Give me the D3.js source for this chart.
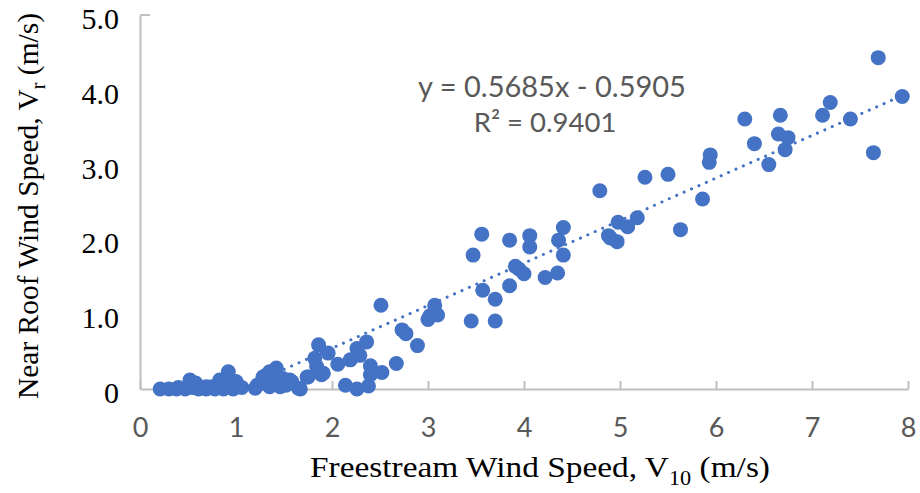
<!DOCTYPE html>
<html>
<head>
<meta charset="utf-8">
<script src="https://cdn.jsdelivr.net/npm/d3@7"></script>
<style>
  html, body { margin: 0; padding: 0; background: #fff; }
  svg { display: block; }
</style>
</head>
<body>
<svg id="chart" width="920" height="493"></svg>
<script>
// Freestream speed V10 (m/s) and near-roof speed Vr (m/s) for each observation
const v10 = [
  0.21, 0.30, 0.38, 0.47, 0.55, 0.61, 0.69, 0.69, 0.78, 0.83, 0.87, 0.92, 0.97, 1.00, 1.06, 0.52, 0.40, 0.58, 0.75, 0.90,
  1.20, 1.22, 1.28, 1.32, 1.35, 1.35, 1.41, 1.42, 1.46, 1.49, 1.56, 1.58, 1.65, 1.67, 1.75, 1.44, 1.52, 1.38,
  1.74, 1.82, 1.84, 1.86, 1.89, 1.91, 1.96, 2.06, 2.14, 2.19, 2.26, 2.26, 2.29, 2.36, 2.38, 2.40, 2.40, 2.52, 2.51, 2.67,
  2.73, 2.77, 2.89, 3.00, 3.02, 3.07, 3.10,
  3.45, 3.47, 3.56, 3.57, 3.70, 3.70, 3.85, 3.85, 3.91, 3.95, 4.00, 4.06, 4.06, 4.22, 4.35, 4.36, 4.41, 4.41,
  4.79, 4.88, 4.90, 4.97, 4.98, 5.08, 5.18, 5.26, 5.50, 5.63, 5.86, 5.93, 5.94,
  6.30, 6.40, 6.55, 6.65, 6.67, 6.72, 6.75, 7.11, 7.19, 7.40, 7.64, 7.69, 7.94
];
const vr = [
  0.00, 0.00, 0.00, 0.00, 0.02, 0.00, 0.00, 0.03, 0.00, 0.12, 0.00, 0.23, 0.00, 0.10, 0.02, 0.12, 0.02, 0.08, 0.03, 0.05,
  0.01, 0.05, 0.16, 0.19, 0.23, 0.03, 0.25, 0.28, 0.03, 0.14, 0.12, 0.10, 0.01, 0.00, 0.16, 0.08, 0.05, 0.12,
  0.16, 0.41, 0.30, 0.59, 0.19, 0.21, 0.48, 0.33, 0.05, 0.39, 0.54, 0.00, 0.45, 0.63, 0.04, 0.19, 0.31, 0.22, 1.12, 0.34,
  0.79, 0.74, 0.58, 0.93, 0.98, 1.12, 0.99,
  0.91, 1.79, 2.07, 1.32, 0.91, 1.20, 1.38, 1.99, 1.64, 1.60, 1.54, 2.05, 1.90, 1.49, 1.55, 1.99, 1.79, 2.16,
  2.65, 2.05, 2.02, 1.97, 2.23, 2.17, 2.29, 2.83, 2.87, 2.13, 2.54, 3.03, 3.13,
  3.61, 3.28, 3.00, 3.41, 3.66, 3.20, 3.36, 3.66, 3.83, 3.61, 3.16, 4.43, 3.91
];

// Linear trend fitted to the observations
const trendSlope = 0.5685;
const trendIntercept = -0.5905;
const trendLabel = "y = 0.5685x - 0.5905";
const r2Label = "R\u00B2 = 0.9401";

const xTicks = [0, 1, 2, 3, 4, 5, 6, 7, 8];
const yTicks = [0, 1, 2, 3, 4, 5];
const yTickLabels = ["0", "1.0", "2.0", "3.0", "4.0", "5.0"];

const svg = d3.select("#chart");
const x = d3.scaleLinear().domain([0, 8]).range([140, 908]);
const y = d3.scaleLinear().domain([0, 5]).range([389, 15]);

const axisGrey = "#bfbfbf";
const blue = "#4472c4";
const serif = "'Liberation Serif', 'Times New Roman', serif";
const sans = "Lato, 'Open Sans', sans-serif";

// X axis: ticks point up into the plot area
const gx = svg.append("g")
  .attr("transform", `translate(0,${y(0)})`)
  .call(d3.axisBottom(x).tickValues(xTicks).tickSizeInner(-8).tickSizeOuter(0).tickPadding(29)
    .tickFormat(d3.format("d")));
gx.select(".domain").attr("stroke", axisGrey).attr("stroke-width", 2);
gx.selectAll(".tick line").attr("stroke", axisGrey).attr("stroke-width", 2);
gx.selectAll(".tick text")
  .attr("fill", "#595959")
  .style("font-family", sans)
  .style("font-size", "27px");

// Y axis
const gy = svg.append("g")
  .attr("transform", `translate(${x(0)},0)`)
  .call(d3.axisLeft(y).tickValues(yTicks).tickSize(0).tickPadding(21)
    .tickFormat((d, i) => yTickLabels[i]));
gy.select(".domain").attr("stroke", axisGrey).attr("stroke-width", 2);
gy.selectAll(".tick text")
  .attr("fill", "#000")
  .attr("dy", "0.45em")
  .style("font-family", serif)
  .style("font-size", "30px");
// short inward tick at the top of the value axis
gy.append("line")
  .attr("x1", 0).attr("x2", 10)
  .attr("y1", y(5)).attr("y2", y(5))
  .attr("stroke", axisGrey).attr("stroke-width", 2);

// Observations
svg.append("g")
  .selectAll("circle")
  .data(v10.map((d, i) => [d, vr[i]]))
  .join("circle")
  .attr("cx", d => x(d[0]))
  .attr("cy", d => y(d[1]))
  .attr("r", 7.5)
  .attr("fill", blue);

// Dotted trendline, clipped at Vr = 0 and running to the largest V10
const xStart = -trendIntercept / trendSlope;
const xEnd = d3.max(v10);
svg.append("line")
  .attr("x1", x(xStart)).attr("y1", y(trendSlope * xStart + trendIntercept))
  .attr("x2", x(xEnd)).attr("y2", y(trendSlope * xEnd + trendIntercept))
  .attr("stroke", blue)
  .attr("stroke-width", 3)
  .attr("stroke-linecap", "round")
  .attr("stroke-dasharray", "0.1 8");

// Trendline equation and R²
svg.append("text")
  .attr("x", 552).attr("y", 97)
  .attr("text-anchor", "middle")
  .attr("fill", "#595959")
  .style("font-family", sans)
  .style("font-size", "29px")
  .text(trendLabel);
svg.append("text")
  .attr("x", 545).attr("y", 132)
  .attr("text-anchor", "middle")
  .attr("fill", "#595959")
  .style("font-family", sans)
  .style("font-size", "27.5px")
  .text(r2Label);

// Axis titles with subscripts
const xTitle = svg.append("text")
  .attr("x", 540).attr("y", 477)
  .attr("text-anchor", "middle")
  .attr("textLength", 460)
  .attr("lengthAdjust", "spacingAndGlyphs")
  .attr("fill", "#000")
  .style("font-family", serif)
  .style("font-size", "30px");
xTitle.append("tspan").text("Freestream Wind Speed, V");
xTitle.append("tspan").attr("dy", 8).style("font-size", "20px").text("10");
xTitle.append("tspan").attr("dy", -8).text(" (m/s)");

const yTitle = svg.append("text")
  .attr("transform", "translate(38,206) rotate(-90)")
  .attr("text-anchor", "middle")
  .attr("fill", "#000")
  .style("font-family", serif)
  .style("font-size", "29.5px");
yTitle.append("tspan").text("Near Roof Wind Speed, V");
yTitle.append("tspan").attr("dy", 7).style("font-size", "20px").text("r");
yTitle.append("tspan").attr("dy", -7).text(" (m/s)");
</script>
</body>
</html>
